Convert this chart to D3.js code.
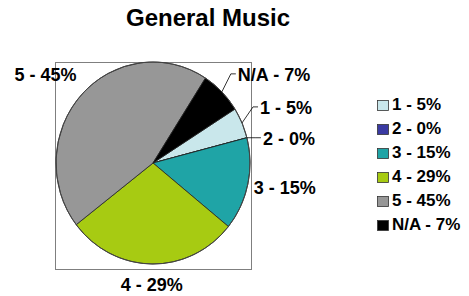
<!DOCTYPE html>
<html>
<head>
<meta charset="utf-8">
<script src="https://cdn.jsdelivr.net/npm/d3@7"></script>
<style>
  body { margin: 0; background: #fff; }
  text { font-family: "Liberation Sans", Arial, sans-serif; font-weight: bold; fill: #000; }
</style>
</head>
<body>
<svg id="chart" width="469" height="296"></svg>
<script>
// chart data
var categories = ["1", "2", "3", "4", "5", "N/A"];
var percents = [5, 0, 15, 29, 45, 7];
var colors = ["#c9e7eb", "#3a3aa2", "#1fa4a6", "#a7cb12", "#979797", "#000000"];
var title = "General Music";

var width = 469, height = 296;
var cx = 153, cy = 163, rx = 97, ry = 101;
var startDeg = 57.7; // first slice starts here (clockwise from 12 o'clock)

var svg = d3.select("#chart");

svg.append("text")
	.attr("x", 208)
	.attr("y", 26)
	.attr("text-anchor", "middle")
	.style("font-size", "24px")
	.text(title);

// plot area box
svg.append("rect")
	.attr("x", 55.5)
	.attr("y", 62.5)
	.attr("width", 196)
	.attr("height", 207)
	.style("fill", "none")
	.style("stroke", "#7f7f7f")
	.style("stroke-width", 1);

var data = categories.map(function(c, i) {
	return { name: c, value: percents[i], color: colors[i] };
});

var pie = d3.pie()
	.sort(null)
	.value(function(d) { return d.value; })
	.startAngle(startDeg * Math.PI / 180)
	.endAngle(startDeg * Math.PI / 180 + 2 * Math.PI);

var arcs = pie(data);

var arc = d3.arc().innerRadius(0).outerRadius(ry);

var g = svg.append("g")
	.attr("transform", "translate(" + cx + "," + cy + ") scale(" + (rx / ry) + ",1)");

g.selectAll(".slice")
	.data(arcs)
	.enter().append("path")
	.attr("class", "slice")
	.attr("d", arc)
	.style("fill", function(d) { return d.data.color; })
	.style("stroke", "#222")
	.style("stroke-width", 0.8)
	.attr("vector-effect", "non-scaling-stroke");

g.append("ellipse")
	.attr("rx", ry).attr("ry", ry)
	.style("fill", "none")
	.style("stroke", "#444")
	.style("stroke-width", 1)
	.attr("vector-effect", "non-scaling-stroke");

// point on the pie edge for an angle
function edge(a, k) {
	k = k || 1;
	return [cx + rx * k * Math.sin(a), cy - ry * k * Math.cos(a)];
}

// label layout: [dx, dy, anchor, leader] relative to slice edge midpoint
var labelLayout = {
	"1":   { dx: 18, dy: -9, anchor: "start", leader: true },
	"2":   { dx: 16, dy: 7, anchor: "start", leader: true },
	"3":   { dx: 6, dy: 10, anchor: "start", leader: false },
	"4":   { dx: 0, dy: 27, anchor: "middle", leader: false },
	"5":   { dx: -5, dy: -14, anchor: "end", leader: false },
	"N/A": { dx: 16, dy: -11, anchor: "start", leader: true }
};

arcs.forEach(function(d) {
	var mid = (d.startAngle + d.endAngle) / 2;
	var p = edge(mid);
	var lay = labelLayout[d.data.name];
	var tx = p[0] + lay.dx, ty = p[1] + lay.dy;
	if (lay.leader) {
		svg.append("polyline")
			.attr("points", [p, [tx - 7, ty - 7], [tx - 2, ty - 7]].map(function(q) { return q.join(","); }).join(" "))
			.style("fill", "none")
			.style("stroke", "#000")
			.style("stroke-width", 0.8);
	}
	svg.append("text")
		.attr("x", tx)
		.attr("y", ty)
		.attr("text-anchor", lay.anchor)
		.style("font-size", "18px")
		.text(d.data.name + " - " + d.data.value + "%");
});

// legend
var legend = svg.selectAll(".legend")
	.data(data)
	.enter().append("g")
	.attr("class", "legend")
	.attr("transform", function(d, i) { return "translate(377," + (110 + i * 24) + ")"; });

legend.append("rect")
	.attr("x", 0.5)
	.attr("y", -9.5)
	.attr("width", 11)
	.attr("height", 10)
	.style("fill", function(d) { return d.color; })
	.style("stroke", "#333")
	.style("stroke-width", 0.8);

legend.append("text")
	.attr("x", 15)
	.attr("y", 0)
	.style("font-size", "17px")
	.text(function(d) { return d.name + " - " + d.value + "%"; });
</script>
</body>
</html>
